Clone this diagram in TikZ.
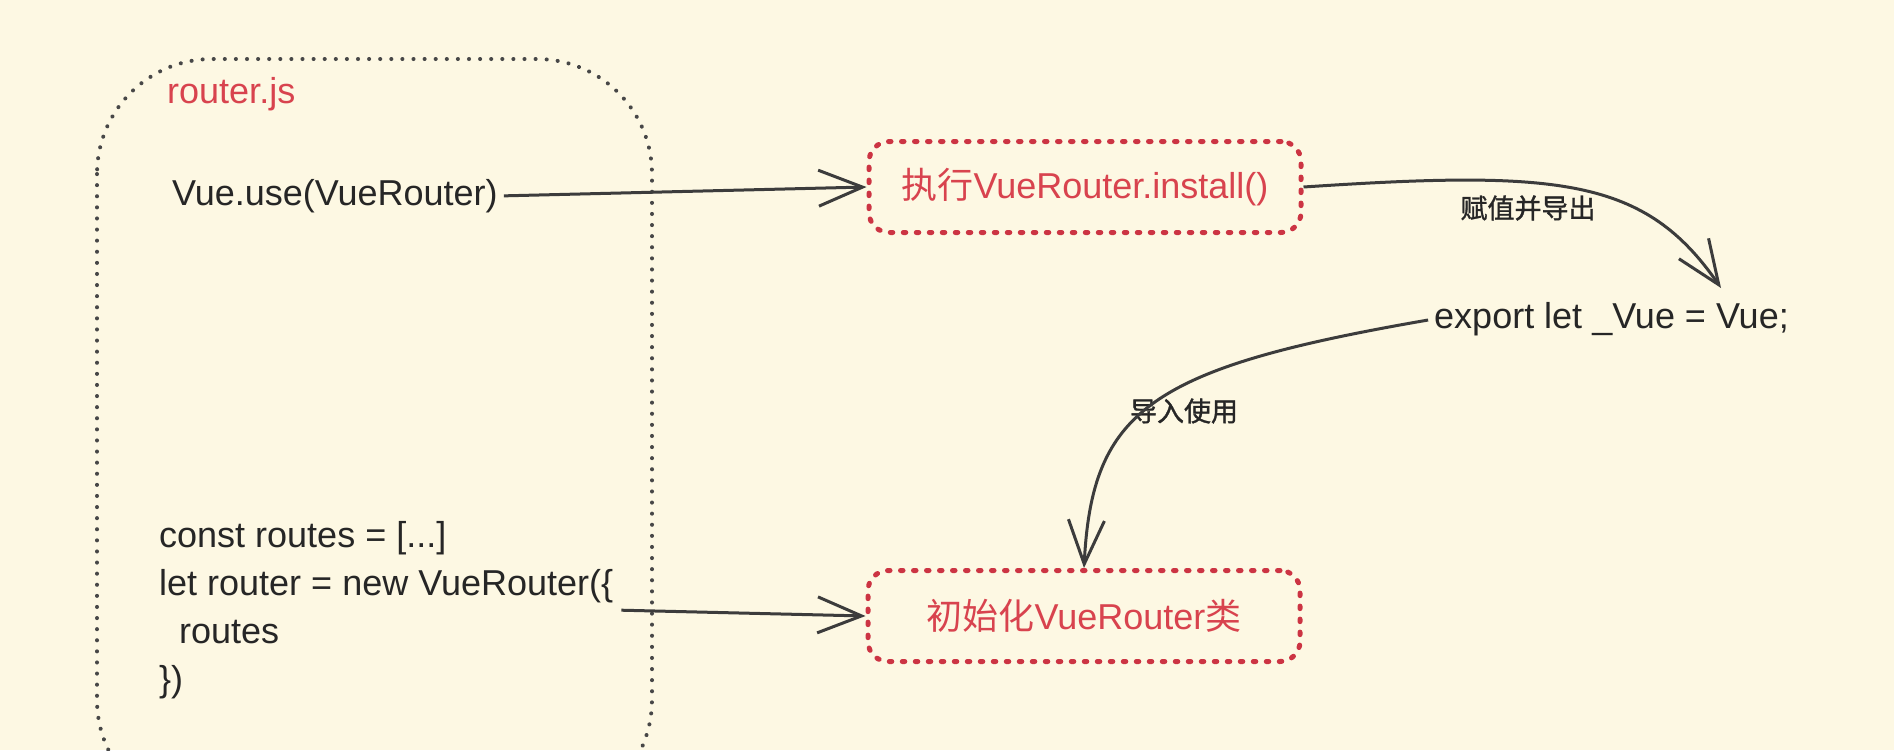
\documentclass[tikz,border=0pt]{standalone}
\usepackage{fontspec}
\setmainfont{Liberation Sans}
\newfontfamily\cjk{Noto Sans CJK SC}
\newfontfamily\cjkm[FakeBold=1.2]{Noto Sans CJK SC}
\usetikzlibrary{arrows.meta,calc}
\definecolor{bg}{HTML}{FDF8E3}
\definecolor{redtxt}{HTML}{D8434E}
\definecolor{reddot}{HTML}{CC3443}
\definecolor{ink}{HTML}{262626}
\begin{document}
\begin{tikzpicture}[x=1pt,y=-1pt,
  txt/.style={font=\fontsize{36}{48}\selectfont, text=ink, inner sep=0pt},
  filebox/.style={draw=ink!85, line width=4pt, line cap=round, dash pattern=on 0.1pt off 11pt, rounded corners=115pt},
  redbox/.style={draw=reddot, line width=5pt, line cap=round, dash pattern=on 2.5pt off 10.5pt, rounded corners=20pt, minimum width=432pt, minimum height=91pt, font=\fontsize{36}{42}\selectfont, text=redtxt},
  lbl/.style={font=\cjkm\fontsize{27}{32}\selectfont, text=ink, inner sep=0pt},
  conn/.style={draw=ink!90, line width=3pt, -{Straight Barb[length=44pt,width=36pt,line width=3pt]}},
]
\fill[bg] (0,0) rectangle (1894,750);
\useasboundingbox (0,0) rectangle (1894,750);

% file frame
\draw[filebox] (97,59) rectangle (652,815);

% nodes
\node[txt, text=redtxt, anchor=west] (file) at (167,94) {router.js};
\node[txt, anchor=west] (use) at (172,196) {Vue.use(VueRouter)};
\node[redbox] (install) at (1085,187) {{\cjk 执行}VueRouter.install()};
\node[txt, anchor=west] (export) at (1434,319) {export let \_Vue = Vue;};
\node[redbox] (init) at (1084,616) {{\cjk 初始化}VueRouter{\cjk 类}};
\node[txt, anchor=west, align=left] (code) at (159,610) {const routes = [...]\\let router = new VueRouter(\{\\\hspace*{20pt}routes\\\})};
\coordinate (expin) at (1721,288);

% labels
\node[lbl] (l1) at (1528,208) {赋值并导出};
\node[lbl] (l2) at (1184,411) {导入使用};

% connectors
\draw[conn, shorten <=6pt] (use.east) -- (install.west);
\draw[conn] (install.east) .. controls (1560,170) and (1645,178) .. (expin);
\draw[conn, shorten <=6pt] (export.west) .. controls (1150,368) and (1092,410) .. (init.north);
\draw[conn, shorten <=8pt] (code.east) -- (init.west);
\end{tikzpicture}
\end{document}
